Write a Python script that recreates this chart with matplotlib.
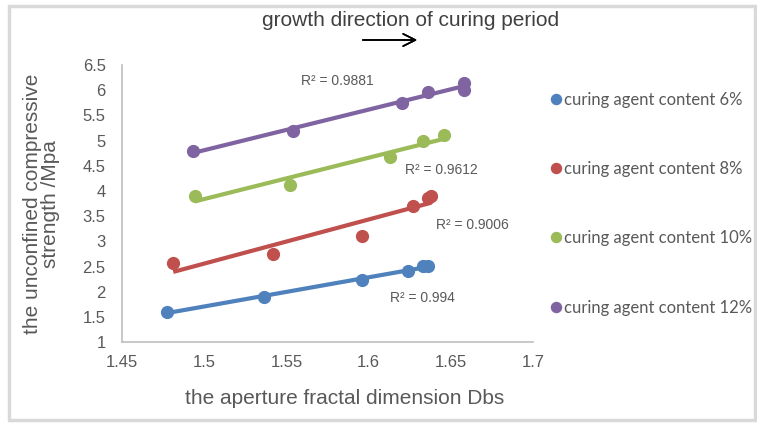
import matplotlib.pyplot as plt
from matplotlib.patches import Rectangle
import numpy as np

# data
dbs_6 = [1.477, 1.536, 1.596, 1.624, 1.633, 1.636]
ucs_6 = [1.60, 1.90, 2.23, 2.42, 2.51, 2.51]
dbs_8 = [1.481, 1.542, 1.596, 1.627, 1.636, 1.638]
ucs_8 = [2.58, 2.75, 3.11, 3.71, 3.87, 3.90]
dbs_10 = [1.494, 1.552, 1.613, 1.633, 1.646]
ucs_10 = [3.90, 4.12, 4.68, 4.99, 5.11]
dbs_12 = [1.493, 1.554, 1.620, 1.636, 1.658, 1.658]
ucs_12 = [4.79, 5.19, 5.75, 5.96, 6.01, 6.15]

labels = ['curing agent content 6%', 'curing agent content 8%',
          'curing agent content 10%', 'curing agent content 12%']
colors = ['#4F81BD', '#C0504D', '#9BBB59', '#8064A2']
r2_text = ['R² = 0.994', 'R² = 0.9006', 'R² = 0.9612', 'R² = 0.9881']
r2_pos = [(1.613, 1.87), (1.641, 3.32), (1.622, 4.41), (1.559, 6.18)]

xticks = [1.45, 1.5, 1.55, 1.6, 1.65, 1.7]
yticks = [1, 1.5, 2, 2.5, 3, 3.5, 4, 4.5, 5, 5.5, 6, 6.5]

gray = '#595959'
W, H = 757, 425

fig = plt.figure(figsize=(W / 100, H / 100), dpi=100)
ax = fig.add_axes([0.1616, 0.1946, 0.5425, 0.6524])

series = [(dbs_6, ucs_6), (dbs_8, ucs_8), (dbs_10, ucs_10), (dbs_12, ucs_12)]
for (x, y), c, lab, txt, pos in zip(series, colors, labels, r2_text, r2_pos):
    x = np.array(x)
    y = np.array(y)
    ax.plot(x, y, 'o', color=c, markersize=8.5, label=lab, zorder=2)
    # linear trendline like excel
    k, b = np.polyfit(x, y, 1)
    xs = np.array([x.min(), x.max()])
    ax.plot(xs, k * xs + b, '-', color=c, linewidth=3, solid_capstyle='butt', zorder=3)
    ax.text(pos[0], pos[1], txt, fontsize=10, color=gray, family='Liberation Sans',
            va='center', ha='left')

ax.set_xlim(1.45, 1.7)
ax.set_ylim(1, 6.5)
ax.set_xticks(xticks)
ax.set_xticklabels([f'{t:g}' for t in xticks])
ax.set_yticks(yticks)
ax.set_yticklabels([f'{t:g}' for t in yticks])
ax.tick_params(length=0, labelsize=12, labelcolor=gray)
ax.tick_params(axis='x', pad=9)
ax.tick_params(axis='y', pad=12)
for t in ax.get_xticklabels() + ax.get_yticklabels():
    t.set_family('Liberation Sans')
for s in ['top', 'right']:
    ax.spines[s].set_visible(False)
for s in ['left', 'bottom']:
    ax.spines[s].set_color('#bfbfbf')
    ax.spines[s].set_linewidth(1.2)

ax.set_xlabel('the aperture fractal dimension Dbs', fontsize=15, color=gray,
              family='Liberation Sans')
ax.xaxis.set_label_coords(0.542, -0.168)
ax.set_ylabel('the unconfined compressive\nstrength /Mpa', fontsize=15, color=gray,
              family='Liberation Sans', linespacing=0.95)
ax.yaxis.set_label_coords(-0.152, 0.5)

fig.text(411 / W, 1 - 21 / H, 'growth direction of curing period', fontsize=15,
         color='#404040', family='Liberation Sans', ha='center', va='center')
fig.add_artist(plt.annotate('', xy=(420 / W, 1 - 40 / H), xytext=(360 / W, 1 - 40 / H),
                            xycoords='figure fraction',
                            arrowprops=dict(arrowstyle='->', color='black', lw=1.2,
                                            mutation_scale=22)))

leg = fig.legend(loc='upper left', bbox_to_anchor=(0.708, 0.82), frameon=False,
                 handlelength=0.6, handletextpad=0.2, labelspacing=3.2,
                 prop={'family': 'Lato', 'size': 12}, markerscale=0.85)
for t in leg.get_texts():
    t.set_color(gray)

# light gray outer frame
fig.add_artist(Rectangle((9 / W, 5 / H), 746 / W, 414 / H, transform=fig.transFigure,
                         fill=False, edgecolor='#d9d9d9', linewidth=2.5))

fig.savefig('out.png', dpi=100)
